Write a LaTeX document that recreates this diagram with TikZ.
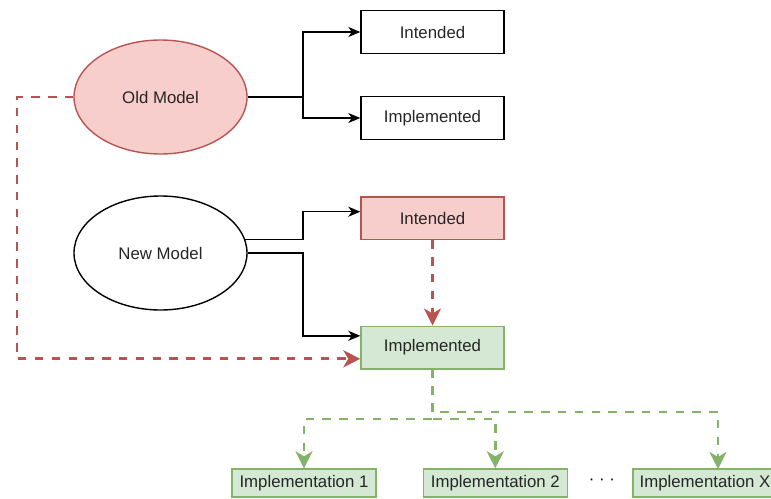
\documentclass[tikz,border=0pt]{standalone}
\usepackage{fontspec}
\setmainfont{Liberation Sans}
\usetikzlibrary{arrows.meta,shapes.geometric}
\definecolor{redfill}{HTML}{F8CECC}
\definecolor{redline}{HTML}{B85450}
\definecolor{greenfill}{HTML}{D5E8D4}
\definecolor{greenline}{HTML}{82B366}
\begin{document}
\begin{tikzpicture}[x=1pt,y=-1pt]
        \tikzstyle{model} = [ellipse, draw=black, line width=1.4pt, minimum width=173pt, minimum height=114pt, inner sep=0pt, text=black!85, font=\fontsize{16.8}{20}\selectfont]
        \tikzstyle{block} = [rectangle, draw=black, line width=1.4pt, minimum width=143pt, minimum height=42.6pt, inner sep=0pt, text=black!85, font=\fontsize{16.8}{20}\selectfont]
        \tikzstyle{impl} = [block, fill=greenfill, draw=greenline, minimum width=144pt, minimum height=28pt]
        \tikzstyle{line} = [-{Stealth[length=12pt,width=10pt,inset=3.5pt]}, draw=black, line width=1.4pt]
        \tikzstyle{oldline} = [-{Stealth[length=17pt,width=17pt,inset=5pt]}, draw=redline, line width=2.8pt, dash pattern=on 8.4pt off 8.4pt]
        \tikzstyle{implline} = [oldline, draw=greenline]
        \useasboundingbox (0,0) rectangle (771,498);
        \node[model,fill=redfill,draw=redline] (old) at (160.5,97) {Old Model};
        \node[model] (new) at (160.5,253) {New Model};
        \node[block] (int1) at (432.5,32) {Intended};
        \node[block] (imp1) at (432.5,118) {Implemented};
        \node[block,fill=redfill,draw=redline] (int2) at (432.5,218.3) {Intended};
        \node[block,fill=greenfill,draw=greenline] (imp2) at (432.5,347.5) {Implemented};
        \node[impl] (impl1) at (304,483) {Implementation 1};
        \node[impl] (impl2) at (495.3,483) {Implementation 2};
        \node[impl] (implx) at (705,483) {Implementation X};
        \node[text=black, font=\fontsize{16.8}{20}\selectfont] (dots) at (602,482) {· · ·};
        \coordinate (fork) at (303,97);
        \coordinate (side) at (17,0);
        \coordinate (low) at (0,419);
        \coordinate (high) at (0,412);
        \coordinate (xin) at (718,469);
        \draw[line] (old) -- (fork) |- (int1);
        \draw[line] (fork) |- (imp1);
        \draw[line] (new.9) -- (new.9 -| fork) |- ([yshift=6.6pt]int2.west);
        \draw[line] (new) -- (new -| fork) |- ([yshift=11.7pt]imp2.west);
        \draw[oldline] (int2) -- (imp2);
        \draw[oldline] (old) -- (old -| side) |- ([yshift=-11.3pt]imp2.west);
        \draw[implline] (imp2.south) -- (imp2.south |- low) -| (impl1);
        \draw[implline] (imp2.south) -- (imp2.south |- low) -| (impl2);
        \draw[implline] (imp2.south) -- (imp2.south |- high) -| (xin);
    \end{tikzpicture}
\end{document}
